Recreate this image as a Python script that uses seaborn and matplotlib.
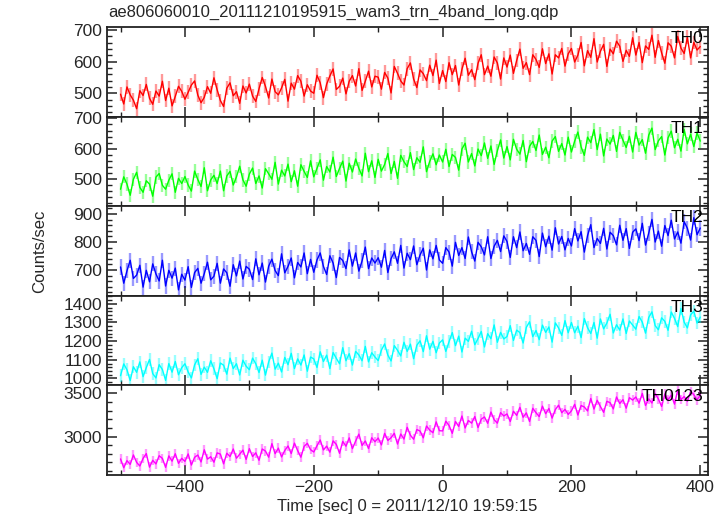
import numpy as np
import pandas as pd
import matplotlib
matplotlib.use("Agg")
import matplotlib.pyplot as plt
import seaborn as sns
from matplotlib.ticker import MultipleLocator

# ---------------- data (5 s bins) ----------------
t_start = -500          # sec
t_step = 5              # sec
bands = ["TH0", "TH1", "TH2", "TH3", "TH0123"]

th0 = [497, 466, 520, 495, 478, 451, 508, 493, 528, 484, 465, 507, 491, 538, 477, 516, 460, 490, 522, 506,
       481, 503, 526, 539, 494, 470, 487, 521, 500, 549, 511, 477, 458, 516, 533, 492, 505, 468, 523, 501,
       529, 491, 474, 514, 550, 522, 485, 545, 505, 495, 517, 544, 475, 532, 513, 556, 538, 491, 527, 507,
       500, 557, 533, 486, 529, 555, 577, 512, 522, 548, 498, 538, 556, 523, 578, 509, 538, 570, 520, 554,
       551, 513, 566, 548, 501, 585, 563, 539, 526, 578, 596, 545, 518, 574, 562, 540, 589, 556, 605, 531,
       572, 537, 597, 559, 588, 526, 576, 611, 557, 575, 543, 595, 622, 559, 586, 554, 615, 596, 545, 612,
       583, 621, 563, 604, 640, 579, 597, 559, 622, 607, 582, 641, 594, 625, 561, 622, 612, 642, 586, 625,
       642, 599, 621, 661, 587, 635, 614, 673, 599, 633, 655, 585, 640, 625, 665, 649, 601, 636, 617, 676,
       621, 661, 597, 650, 639, 684, 614, 667, 628, 595, 660, 649, 612, 680, 643, 626, 677, 612, 661, 637,
       648]

th1 = [466, 507, 483, 446, 499, 522, 472, 456, 494, 483, 443, 506, 518, 479, 466, 496, 517, 456, 502, 485,
       508, 480, 460, 526, 498, 475, 537, 461, 497, 512, 485, 526, 461, 510, 525, 480, 507, 542, 497, 476,
       516, 536, 485, 510, 470, 534, 517, 499, 555, 483, 529, 510, 549, 491, 527, 476, 547, 525, 505, 560,
       507, 535, 563, 496, 541, 523, 572, 508, 535, 559, 493, 552, 523, 566, 535, 510, 585, 524, 560, 505,
       565, 526, 548, 584, 518, 558, 502, 578, 557, 541, 587, 531, 570, 555, 606, 524, 558, 583, 547, 579,
       556, 598, 541, 581, 571, 529, 599, 618, 556, 584, 543, 599, 577, 619, 568, 609, 548, 593, 629, 569,
       607, 563, 631, 598, 582, 627, 557, 608, 624, 594, 645, 581, 605, 570, 625, 640, 591, 617, 579, 638,
       589, 625, 655, 606, 578, 638, 620, 663, 597, 648, 576, 632, 615, 644, 591, 654, 628, 604, 641, 589,
       654, 612, 630, 585, 645, 668, 597, 626, 640, 579, 636, 658, 603, 631, 592, 663, 616, 648, 607, 652,
       625]

th2 = [711, 653, 697, 735, 670, 682, 717, 639, 699, 658, 722, 686, 661, 735, 643, 699, 671, 707, 629, 685,
       664, 712, 638, 691, 706, 653, 687, 728, 665, 678, 724, 653, 704, 690, 642, 719, 679, 732, 668, 713,
       703, 666, 740, 683, 725, 657, 714, 739, 698, 680, 758, 690, 713, 743, 672, 727, 711, 761, 687, 738,
       692, 736, 761, 713, 684, 751, 725, 673, 745, 734, 705, 772, 714, 761, 696, 733, 782, 705, 743, 725,
       744, 710, 770, 691, 741, 765, 724, 788, 707, 760, 737, 786, 719, 754, 778, 700, 772, 740, 788, 736,
       724, 780, 764, 714, 799, 752, 780, 741, 818, 765, 732, 799, 783, 754, 819, 741, 785, 806, 766, 822,
       802, 745, 819, 780, 836, 769, 795, 756, 819, 806, 748, 832, 783, 821, 771, 851, 793, 820, 772, 813,
       786, 848, 804, 837, 764, 823, 862, 780, 813, 795, 849, 775, 835, 823, 790, 860, 806, 848, 777, 835,
       847, 805, 867, 789, 832, 881, 800, 839, 785, 859, 823, 878, 811, 836, 796, 873, 849, 807, 887, 826,
       850]

th3 = [1015, 1078, 1047, 989, 1063, 1033, 1089, 1010, 1058, 1102, 1026, 1003, 1074, 1048, 990, 1080, 1034, 1091, 1020, 1058,
       1079, 1035, 1003, 1073, 1106, 1022, 1061, 1033, 1095, 1052, 999, 1083, 1071, 1023, 1109, 1053, 1079, 1019, 1098, 1066,
       1047, 1109, 1079, 1032, 1098, 1018, 1089, 1136, 1050, 1082, 1035, 1113, 1074, 1135, 1053, 1105, 1072, 1126, 1039, 1115,
       1105, 1059, 1143, 1091, 1125, 1053, 1139, 1108, 1079, 1165, 1095, 1133, 1072, 1145, 1126, 1095, 1172, 1089, 1138, 1115,
       1096, 1152, 1185, 1125, 1094, 1176, 1151, 1121, 1194, 1145, 1184, 1106, 1178, 1202, 1144, 1229, 1157, 1199, 1138, 1190,
       1207, 1145, 1197, 1246, 1176, 1227, 1142, 1216, 1199, 1253, 1181, 1214, 1252, 1169, 1240, 1213, 1287, 1194, 1247, 1212,
       1225, 1283, 1204, 1259, 1246, 1190, 1274, 1304, 1224, 1257, 1208, 1286, 1247, 1276, 1195, 1298, 1271, 1231, 1310, 1245,
       1300, 1245, 1280, 1219, 1321, 1272, 1241, 1300, 1216, 1319, 1266, 1297, 1344, 1244, 1288, 1259, 1319, 1241, 1308, 1286,
       1264, 1332, 1302, 1243, 1327, 1357, 1283, 1261, 1325, 1306, 1258, 1356, 1322, 1278, 1375, 1302, 1271, 1341, 1361, 1297,
       1329]

th0123 = [2741, 2639, 2721, 2678, 2787, 2701, 2659, 2747, 2803, 2646, 2725, 2683, 2778, 2747, 2643, 2776, 2715, 2801, 2690, 2748,
          2712, 2799, 2670, 2760, 2786, 2706, 2847, 2739, 2766, 2703, 2811, 2797, 2684, 2807, 2768, 2856, 2749, 2795, 2843, 2735,
          2860, 2769, 2812, 2725, 2856, 2832, 2761, 2918, 2802, 2866, 2764, 2839, 2891, 2803, 2924, 2837, 2761, 2886, 2922, 2848,
          2821, 2894, 2960, 2845, 2889, 2819, 2950, 2909, 2806, 2944, 2888, 2985, 2860, 2948, 3028, 2897, 2949, 2861, 2986, 2940,
          2983, 2903, 3037, 2955, 2987, 3038, 2913, 3029, 2971, 3107, 3015, 2969, 3081, 3064, 2985, 3122, 3075, 3044, 3170, 3068,
          3065, 3177, 3128, 3037, 3174, 3117, 3238, 3099, 3186, 3155, 3232, 3104, 3201, 3227, 3153, 3284, 3195, 3155, 3277, 3238,
          3262, 3174, 3293, 3245, 3338, 3223, 3274, 3174, 3327, 3276, 3231, 3352, 3264, 3325, 3213, 3312, 3363, 3276, 3315, 3256,
          3298, 3373, 3249, 3359, 3342, 3296, 3441, 3318, 3420, 3347, 3280, 3408, 3392, 3320, 3458, 3382, 3427, 3328, 3450, 3422,
          3458, 3386, 3499, 3359, 3435, 3388, 3497, 3435, 3348, 3492, 3426, 3479, 3375, 3540, 3428, 3463, 3408, 3522, 3484, 3425,
          3480]

rate_errors = [22, 22, 27, 34, 55]       # typical 1-sigma error bar per band
series = [th0, th1, th2, th3, th0123]

title = "ae806060010_20111210195915_wam3_trn_4band_long.qdp"
xlabel = "Time [sec] 0 = 2011/12/10 19:59:15"
ylabel = "Counts/sec"

# ---------------- style ----------------
colors = ["#ff0000", "#00ff00", "#0000ff", "#00ffff", "#ff00ff"]
ylims = [(426, 710), (410, 706), (608, 928), (963, 1443), (2555, 3592)]
ymajor = [100, 100, 100, 100, 500]
yminor = [20, 20, 20, 20, 100]
xlim = (-521, 412)

sns.set_style("ticks")
plt.rcParams["font.family"] = ["Liberation Sans", "DejaVu Sans"]
plt.rcParams["font.size"] = 12

W, H = 723, 516
fig = plt.figure(figsize=(W / 100, H / 100), dpi=100)
left, right = 107 / W, 708 / W
top, bottom = 1 - 27 / H, 1 - 475 / H
ph = (top - bottom) / 5

for i, (name, vals) in enumerate(zip(bands, series)):
    ax = fig.add_axes([left, top - (i + 1) * ph, right - left, ph])
    t = t_start + t_step * np.arange(len(vals))
    df = pd.DataFrame({"time": t, "rate": vals})
    ax.errorbar(df["time"], df["rate"], yerr=rate_errors[i], fmt="none",
                ecolor=colors[i], alpha=0.4, elinewidth=1.7)
    sns.lineplot(data=df, x="time", y="rate", color=colors[i], lw=1.0, ax=ax)
    ax.set_xlim(*xlim)
    ax.set_ylim(*ylims[i])
    ax.xaxis.set_major_locator(MultipleLocator(200))
    ax.xaxis.set_minor_locator(MultipleLocator(100))
    ax.yaxis.set_major_locator(MultipleLocator(ymajor[i]))
    ax.yaxis.set_minor_locator(MultipleLocator(yminor[i]))
    ax.tick_params(which="both", direction="in", top=True, right=True,
                   color="#222222", labelsize=12.5)
    ax.tick_params(which="major", length=7, width=1.1)
    ax.tick_params(which="minor", length=3.5, width=1.0)
    for s in ax.spines.values():
        s.set_color("#222222")
        s.set_linewidth(1.3)
    ax.set_xlabel("")
    ax.set_ylabel("")
    if i < 4:
        ax.set_xticklabels([])
    ax.text(0.992, 0.955, name, transform=ax.transAxes, ha="right", va="top",
            fontsize=12.5, color="black")

fig.text(108 / W, 1 - 12 / H, title, ha="left", va="center", fontsize=12)
fig.text((left + right) / 2, 1 - 507 / H, xlabel, ha="center", va="center", fontsize=12)
fig.text(40 / W, (top + bottom) / 2, ylabel, ha="center", va="center",
         rotation=90, fontsize=12)

fig.savefig("out.png", dpi=100)
